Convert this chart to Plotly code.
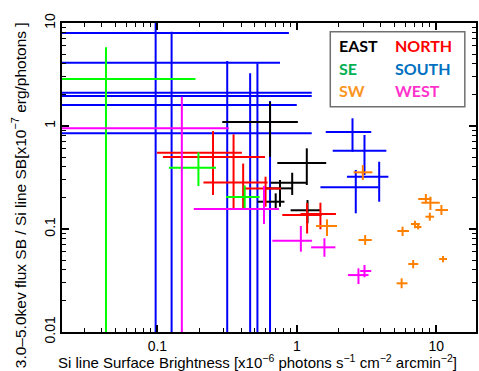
import numpy as np
import plotly.graph_objects as go

# ---- data (x, x-range, y, y-range) ----
# SOUTH (blue)
south_x   = [0.0972, 0.1265, 0.317, 0.522, 0.463, 0.643, 2.51, 3.06, 3.90, 2.65]
south_xlo = [0.01, 0.01, 0.01, 0.01, 0.01, 0.01, 1.613, 1.81, 2.29, 1.478]
south_xhi = [0.878, 0.758, 1.28, 1.28, 1.00, 1.28, 3.42, 4.39, 4.54, 3.85]
south_y   = [8.0, 4.12, 2.105, 1.956, 1.60, 0.849, 0.874, 0.576, 0.322, 0.254]
south_ylo = [0.001, 0.001, 0.001, 0.001, 0.001, 0.001, 0.563, 0.334, 0.184, 0.142]
south_yhi = [20.0, 8.23, 4.28, 4.06, 3.25, 1.75, 1.188, 0.818, 0.450, 0.374]

# EAST (black)
east_x   = [0.643, 1.18, 0.927, 0.758, 0.706, 1.194]
east_xlo = [0.292, 0.725, 0.650, 0.582, 0.522, 0.903]
east_xhi = [1.018, 1.626, 1.167, 0.927, 0.816, 1.473]
east_y   = [1.093, 0.437, 0.2815, 0.248, 0.184, 0.152]
east_ylo = [0.503, 0.2675, 0.214, 0.1647, 0.153, 0.1136]
east_yhi = [1.72, 0.607, 0.352, 0.299, 0.222, 0.191]

# NORTH (red)
north_x   = [0.2508, 0.352, 0.4125, 0.597, 1.186, 1.478]
north_xlo = [0.0993, 0.1096, 0.214, 0.4195, 0.787, 1.064]
north_xhi = [0.404, 0.592, 0.617, 0.770, 1.51, 1.91]
north_y   = [0.551, 0.50, 0.283, 0.247, 0.1368, 0.140]
north_ylo = [0.214, 0.1564, 0.1564, 0.1647, 0.0904, 0.0993]
north_yhi = [0.894, 0.831, 0.432, 0.322, 0.179, 0.18]

# SE (green)
se_x   = [0.0428, 0.197, 0.423]
se_xlo = [0.01, 0.121, 0.3107]
se_xhi = [0.1876, 0.2635, 0.541]
se_y   = [2.86, 0.3937, 0.2045]
se_ylo = [0.001, 0.2616, 0.1546]
se_yhi = [5.81, 0.5555, 0.2645]

# WEST (magenta)
west_x   = [0.1498, 0.582, 1.07, 1.579, 2.77, 3.06]
west_xlo = [0.01, 0.1825, 0.668, 1.267, 2.326, 2.85]
west_xhi = [0.325, 0.745, 1.288, 1.891, 3.27, 3.42]
west_y   = [0.950, 0.1564, 0.077, 0.0664, 0.0357, 0.0391]
west_ylo = [0.001, 0.1118, 0.0602, 0.0538, 0.0292, 0.034]
west_yhi = [1.925, 0.2616, 0.107, 0.0812, 0.0415, 0.0447]

# SW (orange)
sw_x   = [2.976, 1.647, 3.095, 8.43, 9.09, 10.9, 9.0, 7.04, 7.43, 5.74, 11.2, 6.84, 5.65]
sw_xlo = [2.555, 1.375, 2.77, 7.43, 7.84, 9.87, 8.37, 6.59, 7.07, 5.26, 10.5, 6.30, 5.20]
sw_xhi = [3.49, 1.942, 3.45, 9.24, 10.6, 12.16, 9.66, 7.64, 7.84, 6.38, 11.96, 7.43, 6.23]
sw_y   = [0.355, 0.107, 0.0782, 0.1956, 0.18, 0.153, 0.1316, 0.1118, 0.1046, 0.0956, 0.0511, 0.0457, 0.0297]
sw_ylo = [0.299, 0.0855, 0.070, 0.1777, 0.153, 0.1368, 0.1204, 0.1016, 0.099, 0.0855, 0.0475, 0.0415, 0.0266]
sw_yhi = [0.418, 0.1242, 0.0874, 0.2187, 0.206, 0.171, 0.144, 0.1204, 0.111, 0.1053, 0.0547, 0.05, 0.0332]

legend_labels = [["EAST", "NORTH"], ["SE", "SOUTH"], ["SW", "WEST"]]
legend_colors = [["#000000", "#ff0000"], ["#00b050", "#0070c0"], ["#fa961e", "#ff33cc"]]

groups = [
    ("SOUTH", "#0000ff", south_x, south_xlo, south_xhi, south_y, south_ylo, south_yhi),
    ("EAST", "#000000", east_x, east_xlo, east_xhi, east_y, east_ylo, east_yhi),
    ("NORTH", "#ff0000", north_x, north_xlo, north_xhi, north_y, north_ylo, north_yhi),
    ("SE", "#00ff00", se_x, se_xlo, se_xhi, se_y, se_ylo, se_yhi),
    ("WEST", "#ff00ff", west_x, west_xlo, west_xhi, west_y, west_ylo, west_yhi),
    ("SW", "#ff8000", sw_x, sw_xlo, sw_xhi, sw_y, sw_ylo, sw_yhi),
]

fig = go.Figure()
for name, col, x, xlo, xhi, y, ylo, yhi in groups:
    x = np.array(x); y = np.array(y)
    fig.add_trace(go.Scatter(
        x=x, y=y, mode="markers", name=name, showlegend=False,
        marker=dict(size=1, color=col, opacity=0),
        error_x=dict(type="data", symmetric=False,
                     array=np.array(xhi) - x, arrayminus=x - np.array(xlo),
                     color=col, thickness=2, width=0),
        error_y=dict(type="data", symmetric=False,
                     array=np.array(yhi) - y, arrayminus=y - np.array(ylo),
                     color=col, thickness=2, width=0),
    ))

axis_common = dict(
    type="log", dtick=1, ticks="inside", ticklen=7, tickwidth=1.5, tickcolor="black",
    showline=True, linewidth=2, linecolor="black", mirror="allticks",
    showgrid=False, zeroline=False,
    tickfont=dict(family="Liberation Sans", size=14, color="black"),
    minor=dict(dtick="D1", ticks="inside", ticklen=4, tickwidth=1.2,
               tickcolor="black", showgrid=False),
)

fig.update_layout(
    width=479, height=371,
    margin=dict(l=62, r=1, t=23, b=39, pad=0),
    paper_bgcolor="white", plot_bgcolor="white",
    xaxis=dict(range=[np.log10(0.0207), np.log10(19.3)], **axis_common),
    yaxis=dict(range=[-2, 1], tickangle=-90, ticklabelstandoff=-1, **axis_common),
    font=dict(family="Liberation Sans", size=14, color="black"),
)

# axis titles
fig.add_annotation(xref="paper", yref="paper", x=-0.0144, y=-0.097,
                   xanchor="left", yanchor="middle", showarrow=False,
                   text="Si line Surface Brightness [x10<sup>−6</sup> photons s<sup>−1</sup> cm<sup>−2</sup> arcmin<sup>−2</sup>]",
                   font=dict(family="Liberation Sans", size=15, color="black"))
fig.add_annotation(xref="paper", yref="paper", x=-0.1034, y=-0.123,
                   xanchor="center", yanchor="bottom", showarrow=False, textangle=-90,
                   text="3.0–5.0kev flux SB / Si line SB[x10<sup>−7</sup> erg/photons ]",
                   font=dict(family="Liberation Sans", size=15.5, color="black"))

# legend box
fig.add_shape(type="rect", xref="paper", yref="paper",
              x0=0.648, x1=0.973, y0=0.729, y1=0.972,
              line=dict(color="#707070", width=1.5), fillcolor="white", layer="above")
row_y = [0.927, 0.853, 0.780]
col_x = [0.664, 0.800]
for r in range(3):
    for c in range(2):
        fig.add_annotation(xref="paper", yref="paper", x=col_x[c], y=row_y[r],
                           xanchor="left", yanchor="middle", showarrow=False,
                           text="<b>" + legend_labels[r][c] + "</b>",
                           font=dict(family="Lato", size=16, color=legend_colors[r][c]))

fig.write_html("out.html")
